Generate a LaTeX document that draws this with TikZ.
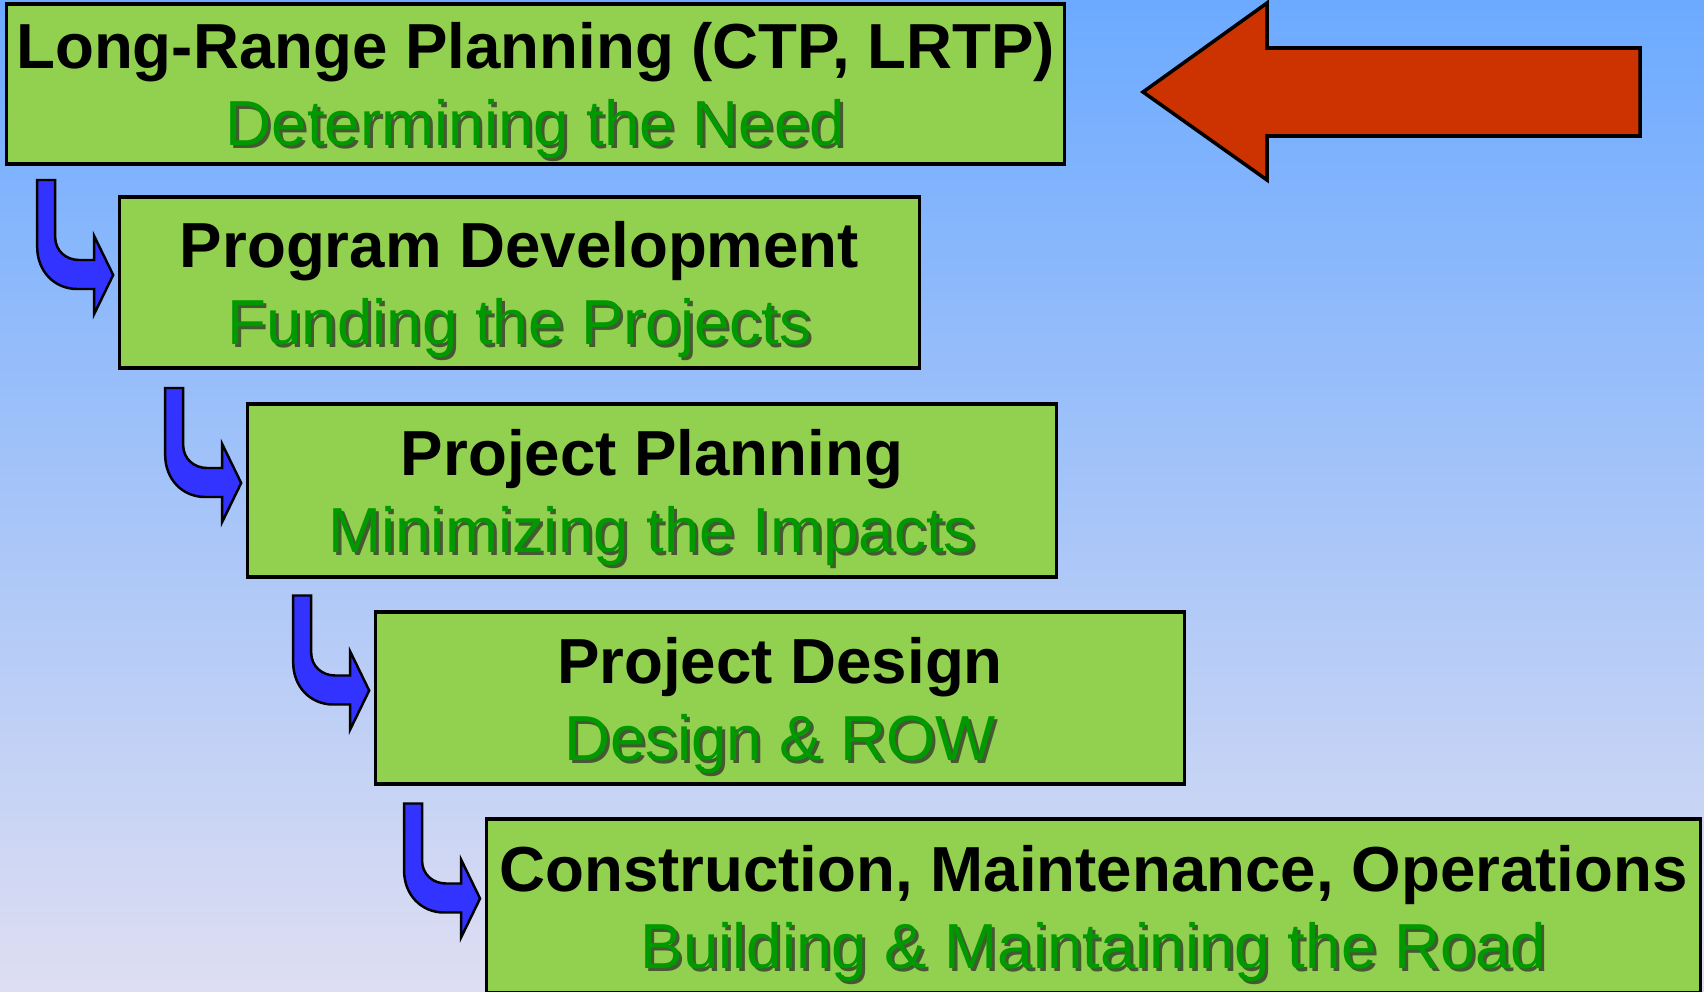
\documentclass[tikz,border=0pt]{standalone}
\usepackage{fontspec}
\setmainfont{Liberation Sans}
\usetikzlibrary{calc,positioning}

\definecolor{boxgreen}{RGB}{146,208,80}
\definecolor{taggreen}{RGB}{0,153,0}
\definecolor{arrowred}{RGB}{204,51,0}
\definecolor{arrowblue}{RGB}{51,51,255}
\definecolor{skytop}{RGB}{108,170,255}
\definecolor{skymid}{RGB}{145,195,250}
\definecolor{skybot}{RGB}{222,222,242}

\tikzset{
  stage/.style={draw=black, line width=0.9pt, fill=boxgreen, inner sep=0pt},
  headline/.style={anchor=base, inner sep=0pt, font=\fontsize{18.1}{20}\selectfont\bfseries},
  tagline/.style={anchor=base, inner sep=0pt, text=taggreen, font=\fontsize{18.1}{20}\selectfont},
  tagshadow/.style={tagline, text=black!85, text opacity=0.7},
  bentarrow/.style={fill=arrowblue, draw=black, line width=0.7pt, line join=miter}
}

\begin{document}
\begin{tikzpicture}[x=0.01cm, y=-0.01cm]
\useasboundingbox (0,0) rectangle (1704,991);
\shade[top color=skytop, middle color=skymid, bottom color=skybot] (0,0) rectangle (1704,991);

% the five stages
\node[stage, minimum width=10.57cm, minimum height=1.60cm] (need) at (535.5,84) {};
\node[stage, minimum width=7.99cm, minimum height=1.71cm] (prog) at (519.5,282.5) {};
\node[stage, minimum width=8.08cm, minimum height=1.73cm] (plan) at (652,490.5) {};
\node[stage, minimum width=8.08cm, minimum height=1.72cm] (design) at (780,698) {};
\node[stage, minimum width=12.13cm, minimum height=1.74cm] (build) at (1093.5,906) {};

% titles
\node[headline] (needT) at ($(need.center)+(0,-15)$) {Long-Range Planning (CTP, LRTP)};
\node[headline] (progT) at ($(prog.center)+(0,-15)$) {Program Development};
\node[headline] (planT) at ($(plan.center)+(0,-15)$) {Project Planning};
\node[headline] (designT) at ($(design.center)+(0,-15)$) {Project Design};
\node[headline] (buildT) at ($(build.center)+(0,-15)$) {Construction, Maintenance, Operations};

% subtitles with shadow
\node[tagshadow] (needS) at ($(need.center)+(3,65)$) {Determining the Need};
\node[tagline] (needL) at ($(need.center)+(0,62)$) {Determining the Need};
\node[tagshadow] (progS) at ($(prog.center)+(3,65)$) {Funding the Projects};
\node[tagline] (progL) at ($(prog.center)+(0,62)$) {Funding the Projects};
\node[tagshadow] (planS) at ($(plan.center)+(3,65)$) {Minimizing the Impacts};
\node[tagline] (planL) at ($(plan.center)+(0,62)$) {Minimizing the Impacts};
\node[tagshadow] (designS) at ($(design.center)+(3,65)$) {Design \& ROW};
\node[tagline] (designL) at ($(design.center)+(0,62)$) {Design \& ROW};
\node[tagshadow] (buildS) at ($(build.center)+(3,65)$) {Building \& Maintaining the Road};
\node[tagline] (buildL) at ($(build.center)+(0,62)$) {Building \& Maintaining the Road};

% bent arrows into each stage
\foreach \b in {prog,plan,design,build}{
  \begin{scope}[shift={($(\b.west)+(-81,-102.5)$)}]
    \draw[bentarrow] (0,0) -- (18,0) -- (18,57) .. controls (18,71) and (29,80) .. (42,80)
      -- (57,80) -- (57,56) -- (76,95) -- (57,134) -- (57,109) -- (40,109)
      .. controls (17,109) and (0,91) .. (0,67) -- cycle;
  \end{scope}
}

% red arrow
\draw[fill=arrowred, line width=1pt, line join=miter] (1143,92) -- (1267,3) -- (1267,48) -- (1640,48)
  -- (1640,136) -- (1267,136) -- (1267,180) -- cycle;
\end{tikzpicture}
\end{document}
